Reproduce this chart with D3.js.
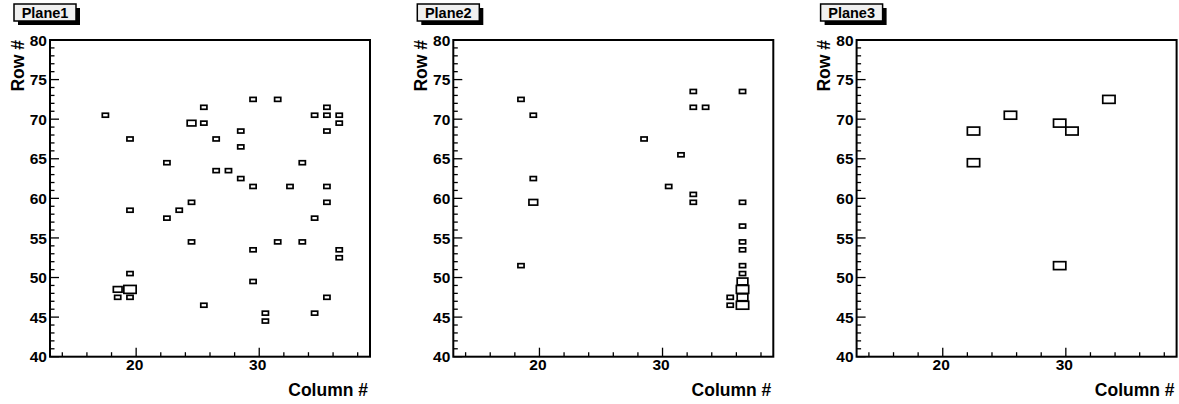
<!DOCTYPE html>
<html>
<head>
<meta charset="utf-8">
<script src="https://cdn.jsdelivr.net/npm/d3@7"></script>
<style>
  body { margin: 0; background: white; }
  svg { display: block; }
</style>
</head>
<body>
<svg id="chart"></svg>
<script>
// hits per plane: [column bin centre, row bin centre, entries]
let plane1Hits = [
  [17.5, 70.5, 1], [19.5, 67.5, 1], [19.5, 58.5, 1], [19.5, 50.5, 1],
  [18.5, 48.5, 2], [19.5, 48.5, 4], [18.5, 47.5, 1], [19.5, 47.5, 1],
  [22.5, 64.5, 1], [22.5, 57.5, 1], [23.5, 58.5, 1], [24.5, 59.5, 1],
  [24.5, 54.5, 1], [24.5, 69.5, 2], [25.5, 71.5, 1], [25.5, 69.5, 1],
  [25.5, 46.5, 1], [26.5, 67.5, 1], [26.5, 63.5, 1], [27.5, 63.5, 1],
  [28.5, 68.5, 1], [28.5, 66.5, 1], [28.5, 62.5, 1], [29.5, 72.5, 1],
  [29.5, 61.5, 1], [29.5, 53.5, 1], [29.5, 49.5, 1], [30.5, 45.5, 1],
  [30.5, 44.5, 1], [31.5, 72.5, 1], [31.5, 54.5, 1], [32.5, 61.5, 1],
  [33.5, 64.5, 1], [33.5, 54.5, 1], [34.5, 70.5, 1], [34.5, 57.5, 1],
  [34.5, 45.5, 1], [35.5, 71.5, 1], [35.5, 70.5, 1], [35.5, 68.5, 1],
  [35.5, 61.5, 1], [35.5, 59.5, 1], [35.5, 47.5, 1], [36.5, 70.5, 1],
  [36.5, 69.5, 1], [36.5, 53.5, 1], [36.5, 52.5, 1]
];
let plane2Hits = [
  [18.5, 72.5, 1], [19.5, 70.5, 1], [19.5, 62.5, 1], [19.5, 59.5, 2],
  [18.5, 51.5, 1], [28.5, 67.5, 1], [30.5, 61.5, 1], [31.5, 65.5, 1],
  [32.5, 73.5, 1], [32.5, 71.5, 1], [33.5, 71.5, 1], [32.5, 60.5, 1],
  [32.5, 59.5, 1], [36.5, 73.5, 1], [36.5, 59.5, 1], [36.5, 56.5, 1],
  [36.5, 54.5, 1], [36.5, 53.5, 1], [36.5, 51.5, 1], [36.5, 50.5, 1],
  [36.5, 49.5, 3], [36.5, 48.5, 4], [36.5, 47.5, 3], [36.5, 46.5, 4],
  [35.5, 47.5, 1], [35.5, 46.5, 1]
];
let plane3Hits = [
  [22.5, 68.5, 1], [22.5, 64.5, 1], [25.5, 70.5, 1], [29.5, 69.5, 1],
  [30.5, 68.5, 1], [33.5, 72.5, 1], [29.5, 51.5, 1]
];

let planeNames = ["Plane1", "Plane2", "Plane3"];
let planeHits = [plane1Hits, plane2Hits, plane3Hits];

let colRange = [13, 39];
let rowRange = [40, 80];
let xTicks = [20, 30];
let yTicks = [40, 45, 50, 55, 60, 65, 70, 75, 80];

let width = 1179;
let height = 404;
let font = "'Liberation Sans', Arial, Helvetica, sans-serif";

let svg = d3.select("#chart")
  .attr("width", width)
  .attr("height", height);

planeNames.forEach((name, i) => drawPlane(name, planeHits[i], i * 403.3));

function drawPlane(name, hits, offset) {
  let left = 50, top = 40, w = 320, h = 316.7;

  let g = svg.append("g")
    .attr("transform", `translate(${offset}, 0)`);

  let xax = d3.scaleLinear().domain(colRange).range([left, left + w]);
  let yax = d3.scaleLinear().domain(rowRange).range([top + h, top]);

  // bin size in px (bins are 1 x 1)
  let bw = xax(1) - xax(0);
  let bh = yax(0) - yax(1);
  let nmax = d3.max(hits, d => d[2]);
  let ratio = n => Math.sqrt(n / nmax);

  // minor + major ticks, ROOT style (inside the frame)
  let minorX = d3.range(14, 39, 2).filter(v => !xTicks.includes(v));
  let minorY = d3.range(41, 80, 1).filter(v => !yTicks.includes(v));

  let ticks = g.append("g")
    .attr("stroke", "black")
    .attr("stroke-width", 1.3);
  ticks.selectAll(".mx").data(minorX).join("line")
    .attr("x1", d => xax(d)).attr("x2", d => xax(d))
    .attr("y1", top + h).attr("y2", top + h - 4.5);
  ticks.selectAll(".Mx").data(xTicks).join("line")
    .attr("x1", d => xax(d)).attr("x2", d => xax(d))
    .attr("y1", top + h).attr("y2", top + h - 9);
  ticks.selectAll(".my").data(minorY).join("line")
    .attr("x1", left).attr("x2", left + 4.5)
    .attr("y1", d => yax(d)).attr("y2", d => yax(d));
  ticks.selectAll(".My").data(yTicks).join("line")
    .attr("x1", left).attr("x2", left + 9)
    .attr("y1", d => yax(d)).attr("y2", d => yax(d));

  // frame
  g.append("rect")
    .attr("x", left).attr("y", top)
    .attr("width", w).attr("height", h)
    .attr("fill", "none")
    .attr("stroke", "black")
    .attr("stroke-width", 2);

  // tick labels
  g.append("g")
    .selectAll("text")
    .data(yTicks)
    .join("text")
      .attr("x", left - 3)
      .attr("y", d => yax(d))
      .attr("dy", "0.36em")
      .attr("text-anchor", "end")
      .attr("font-family", font)
      .attr("font-weight", "bold")
      .attr("font-size", 15.5)
      .text(d => d);

  g.append("g")
    .selectAll("text")
    .data(xTicks)
    .join("text")
      .attr("x", d => xax(d) - 1.5)
      .attr("y", top + h + 13.5)
      .attr("text-anchor", "middle")
      .attr("font-family", font)
      .attr("font-weight", "bold")
      .attr("font-size", 15.5)
      .text(d => d);

  // axis titles
  g.append("text")
    .attr("x", left + w - 2)
    .attr("y", 396)
    .attr("text-anchor", "end")
    .attr("font-family", font)
    .attr("font-weight", "bold")
    .attr("font-size", 17.5)
    .text("Column #");

  g.append("text")
    .attr("transform", "rotate(-90)")
    .attr("x", -top)
    .attr("y", 23.5)
    .attr("text-anchor", "end")
    .attr("font-family", font)
    .attr("font-weight", "bold")
    .attr("font-size", 17.5)
    .text("Row #");

  // boxes
  g.append("g")
    .selectAll("rect")
    .data(hits)
    .join("rect")
      .attr("x", d => xax(d[0]) - 0.5 * bw * ratio(d[2]))
      .attr("y", d => yax(d[1]) - 0.5 * bh * ratio(d[2]))
      .attr("width", d => bw * ratio(d[2]))
      .attr("height", d => bh * ratio(d[2]))
      .attr("fill", "white")
      .attr("stroke", "black")
      .attr("stroke-width", 1.7);

  // title box with shadow
  let tb = { x: 14, y: 4, w: 62, h: 17 };
  g.append("rect")
    .attr("x", tb.x + 4).attr("y", tb.y + 4)
    .attr("width", tb.w).attr("height", tb.h)
    .attr("fill", "black");
  g.append("rect")
    .attr("x", tb.x).attr("y", tb.y)
    .attr("width", tb.w).attr("height", tb.h)
    .attr("fill", "#f0f0f0")
    .attr("stroke", "black")
    .attr("stroke-width", 1.5);
  g.append("text")
    .attr("x", tb.x + tb.w / 2)
    .attr("y", tb.y + 13.5)
    .attr("text-anchor", "middle")
    .attr("font-family", font)
    .attr("font-weight", "bold")
    .attr("font-size", 14.5)
    .text(name);
}
</script>
</body>
</html>
